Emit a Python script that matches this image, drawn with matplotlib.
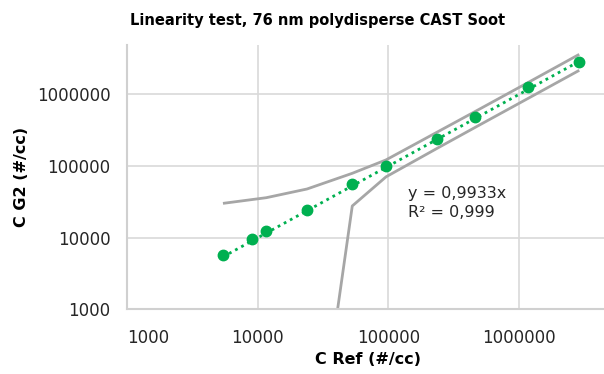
import matplotlib
matplotlib.use("Agg")
import matplotlib.pyplot as plt
from matplotlib.ticker import FixedLocator, FixedFormatter, NullLocator

# measured points (C Ref, C G2)
c_ref = [5425, 9093, 11634, 23850, 52960, 95850, 236600, 457300, 1170000, 2890000]
c_g2 = [5665, 9556, 12360, 24270, 55940, 99680, 234900, 480800, 1248000, 2840000]

# tolerance band (grey lines)
upper_x = [5425, 11634, 23850, 52960, 95850, 236600, 457300, 1170000, 2890000]
upper_y = [30000, 36000, 47600, 78800, 121000, 296000, 568000, 1450000, 3590000]
lower_x = [23850, 52960, 95850, 236600, 457300, 1170000, 2890000]
lower_y = [1, 27600, 70200, 176000, 341000, 871000, 2150000]

# linear trend y = 0.9933x
trend_x = [5425, 2890000]
trend_y = [5390, 2870000]

ticks = [1000, 10000, 100000, 1000000]
tick_labels = ["1000", "10000", "100000", "1000000"]

W, H = 604, 374
fig = plt.figure(figsize=(W / 100, H / 100), dpi=100)
ax = fig.add_axes([127 / W, 1 - 309.3 / H, (604 - 127) / W, (309.3 - 45) / H])

ax.set_xscale("log")
ax.set_yscale("log")
ax.set_xlim(1000, 4.47e6)
ax.set_ylim(1000, 4.85e6)

grey = "#a6a6a6"
green = "#00b050"
ax.plot(upper_x, upper_y, color=grey, lw=2, solid_capstyle="butt", zorder=2)
ax.plot(lower_x, lower_y, color=grey, lw=2, solid_capstyle="butt", zorder=2)
ax.plot(trend_x, trend_y, color=green, lw=2, linestyle=(0, (1, 1.5)), zorder=3)
ax.plot(c_ref, c_g2, "o", color=green, ms=7.5, zorder=4)

ax.xaxis.set_major_locator(FixedLocator(ticks))
ax.xaxis.set_major_formatter(FixedFormatter(tick_labels))
ax.yaxis.set_major_locator(FixedLocator(ticks))
ax.yaxis.set_major_formatter(FixedFormatter(tick_labels))
ax.xaxis.set_minor_locator(NullLocator())
ax.yaxis.set_minor_locator(NullLocator())
ax.tick_params(length=0, labelsize=12, colors="#262626")
ax.tick_params(axis="x", pad=14)
ax.tick_params(axis="y", pad=12)
ax.grid(True, color="#d9d9d9", lw=1.2, zorder=0)
ax.set_axisbelow(True)
fig.canvas.draw()
ax.get_xticklabels()[0].set_horizontalalignment("left")

for s in ["top", "right"]:
    ax.spines[s].set_visible(False)
for s in ["left", "bottom"]:
    ax.spines[s].set_color("#d0d0d0")
    ax.spines[s].set_linewidth(1.5)

fig.text(318 / W, 1 - 20 / H, "Linearity test, 76 nm polydisperse CAST Soot",
         ha="center", va="center", fontsize=10.5, fontweight="bold", color="#000000")
fig.text(368 / W, 1 - 360 / H, "C Ref (#/cc)", ha="center", va="center",
         fontsize=11.5, fontweight="bold")
fig.text(22 / W, 1 - 177 / H, "C G2 (#/cc)", ha="center", va="center",
         fontsize=11.5, fontweight="bold", rotation=90)
fig.text(408 / W, 1 - 186 / H, "y = 0,9933x\nR² = 0,999", ha="left", va="top",
         fontsize=11.5, color="#262626", linespacing=1.3)

fig.savefig("out.png", dpi=100)
